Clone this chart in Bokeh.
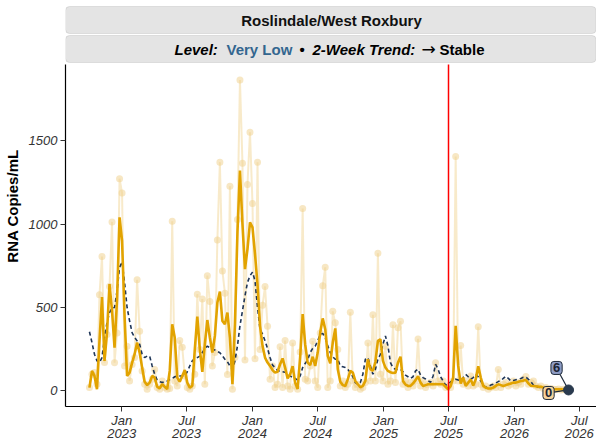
import numpy as np
import pandas as pd
from bokeh.plotting import figure
from bokeh.models import Range1d, FixedTicker, BoxAnnotation, Label, DatetimeAxis
from bokeh.embed import file_html
from bokeh.resources import INLINE

# ---------------- data ----------------
site_name = "Roslindale/West Roxbury"
first_sample = "2022-10-03"
sample_step_days = 7

raw_copies = [
    20, 100, 110, 40, 576, 805, 170, 338, 626, 1013,
    169, 348, 1272, 1186, 149, 268, 60, 159, 200, 666,
    358, 119, 40, 10, 40, 70, 129, 20, 10, 60,
    20, 10, 15, 1017, 60, 30, 302, 262, 90, 20,
    10, 30, 100, 580, 248, 551, 40, 691, 536, 149,
    230, 904, 1371, 719, 586, 99, 1226, 10, 200, 1027,
    1863, 1365, 185, 1237, 1550, 1123, 193, 1371, 248, 513,
    626, 387, 70, 150, 20, 40, 265, 20, 302, 30,
    10, 288, 30, 10, 233, 1093, 70, 60, 149, 298,
    60, 20, 348, 630, 741, 20, 60, 477, 408, 248,
    30, 60, 20, 40, 471, 60, 20, 40, 10, 20,
    50, 288, 60, 457, 60, 825, 100, 60, 268, 40,
    60, 397, 50, 378, 417, 40, 60, 20, 50, 30,
    60, 312, 30, 60, 20, 40, 50, 30, 169, 60,
    40, 60, 20, 30, 20, 60, 1405, 60, 272, 40,
    60, 30, 90, 30, 40, 384, 40, 20, 30, 10,
    20, 30, 20, 129, 20, 40, 50, 30, 40, 60,
    30, 50, 40, 70, 86, 40, 50, 60, 30, 20,
    30, 15, 20, 10, 15, 10, 8, 12, 6, 10,
    5, 6,
]

trend_short = [
    20, 120, 90, 10, 300, 563, 180, 350, 640, 480,
    260, 550, 1040, 900, 450, 90, 110, 170, 220, 290,
    230, 140, 55, 35, 50, 90, 80, 25, 15, 40,
    25, 12, 120, 400, 320, 80, 55, 90, 125, 50,
    20, 30, 250, 445, 250, 115, 280, 425, 320, 230,
    330, 530, 595, 420, 400, 470, 320, 40, 400, 950,
    1320, 1000, 730, 850, 1010, 980, 820, 640, 390, 270,
    200, 170, 150, 125, 110, 115, 160, 195, 140, 75,
    100, 148, 50, 12, 200, 460, 280, 170, 155, 205,
    150, 230, 350, 435, 370, 210, 165, 290, 375, 130,
    55, 35, 30, 70, 120, 110, 60, 40, 22, 30,
    60, 190, 130, 120, 175, 300, 310, 180, 140, 120,
    112, 108, 110, 170, 205, 60, 38, 30, 30, 45,
    65, 88, 50, 30, 35, 40, 40, 40, 42, 40,
    40, 40, 25, 10, 30, 80, 390, 150, 45, 80,
    30, 50, 68, 32, 70, 148, 80, 30, 20, 15,
    15, 20, 30, 40, 35, 30, 35, 40, 45, 50,
    50, 55, 60, 62, 66, 45, 30, 30, 28, 26,
    25, 20, 15, 10, 10, 10, 10, 10, 10, 8,
    7, 6,
]

trend_long = [
    355, 290, 220, 180, 170, 200, 320, 410, 470, 497,
    500, 600, 740, 775, 650, 500, 420, 350, 320, 300,
    280, 220, 200, 209, 209, 150, 100, 65, 55, 50,
    55, 60, 68, 75, 85, 89, 90, 90, 90, 115,
    150, 180, 195, 200, 209, 230, 255, 268, 260, 250,
    245, 237, 229, 210, 190, 175, 150, 130, 180, 270,
    390, 480, 570, 650, 690, 712, 660, 500, 370, 340,
    300, 255, 200, 155, 140, 123, 117, 115, 112, 105,
    90, 80, 75, 65, 90, 140, 165, 185, 230, 255,
    268, 300, 338, 345, 320, 270, 230, 205, 190, 190,
    150, 145, 140, 130, 110, 85, 50, 40, 50, 100,
    190, 199, 150, 100, 130, 190, 220, 280, 330, 270,
    170, 140, 129, 129, 129, 115, 95, 85, 75, 85,
    120, 130, 95, 80, 72, 62, 52, 90, 160, 130,
    85, 60, 35, 40, 55, 62, 70, 66, 60, 80,
    99, 85, 70, 80, 99, 85, 60, 35, 20, 28,
    35, 40, 48, 56, 62, 75, 88, 75, 60, 63,
    67, 70, 75, 82, 83, 70, 55, 35, 28, 22,
    20,
]

latest_value_label = "6"
latest_smooth_label = "0"
y_ticks = [0, 500, 1000, 1500]
x_tick_dates = ["2023-01-01", "2023-07-01", "2024-01-01", "2024-07-01",
                "2025-01-01", "2025-07-01", "2026-01-01", "2026-07-01"]
x_tick_labels = ["Jan\n2023", "Jul\n2023", "Jan\n2024", "Jul\n2024",
                 "Jan\n2025", "Jul\n2025", "Jan\n2026", "Jul\n2026"]
marker_date = "2025-07-01"

# strip 2 pieces: (text, font, font style, size, colour, left pixel in the page)
subtitle_parts = [
    ("Level:", "Liberation Sans", "bold italic", "15px", "#000000", 174),
    ("Very Low", "Liberation Sans", "bold", "15px", "#33668F", 226),
    ("\u2022", "Liberation Sans", "bold", "15px", "#000000", 299),
    ("2-Week Trend:", "Liberation Sans", "bold italic", "15px", "#000000", 312),
    ("\u2192", "DejaVu Sans", "normal", "17px", "#000000", 421),
    ("Stable", "Liberation Sans", "bold", "15px", "#000000", 439),
]


def ms(d):
    return (pd.Timestamp(d) - pd.Timestamp("1970-01-01")) / pd.Timedelta(milliseconds=1)


# ---------------- layout constants (pixels) ----------------
W, H = 596, 440
BL, BR, BT, BB = 65, 0, 5, 34
FRAME_H = H - BT - BB
DATA_TOP = 59          # px from top of frame where the data panel starts
SCALE_W = 527          # px width that the padded data range occupies
FONT = "Liberation Sans"

dates = pd.to_datetime(first_sample) + pd.to_timedelta(
    np.arange(len(raw_copies)) * sample_step_days, unit="D")
t = np.array([ms(d) for d in dates])

pad = 0.05 * (t[-1] - t[0])
x_lo = t[0] - pad
mpp = (t[-1] + pad - x_lo) / SCALE_W
x_hi = x_lo + (W - BL - BR) * mpp
vmax = max(raw_copies)
y_lo, y_top = -0.05 * vmax, 1.05 * vmax
upp = (y_top - y_lo) / (FRAME_H - DATA_TOP)
y_end = y_top + DATA_TOP * upp

p = figure(width=W, height=H, x_axis_type="datetime", output_backend="svg",
           toolbar_location=None, x_range=Range1d(x_lo, x_hi),
           y_range=Range1d(y_lo, y_end),
           min_border_left=BL, min_border_right=BR, min_border_top=BT,
           min_border_bottom=BB)
p.outline_line_color = None
p.grid.visible = False
p.background_fill_color = "white"
p.border_fill_color = "white"

# raw samples
p.line(t, raw_copies, line_color="#EFD08A", line_alpha=0.45, line_width=2)
p.scatter(t, raw_copies, size=7, fill_color="#EFD08A", fill_alpha=0.5, line_color=None)
# long trend (dashed)
p.line(t[:len(trend_long)], trend_long, line_color="#1E3557", line_width=1.6,
       line_dash="4 3")
# short trend
p.line(t, trend_short, line_color="#E2A300", line_width=2.6)

# red marker line
mx = ms(marker_date)
p.segment(x0=[mx], y0=[y_lo], x1=[mx], y1=[y_top], line_color="#FF0000", line_width=1.5)

# latest point + labels
lx, ly = t[-1], raw_copies[-1]
lab6 = (lx - 12 * mpp, ly + 22 * upp)
lab0 = (lx - 20 * mpp, ly - 3 * upp)
p.segment(x0=[lx, lx], y0=[ly, ly], x1=[lab6[0], lab0[0]], y1=[lab6[1], lab0[1]],
          line_color="#1E2A3A", line_width=1.2)
p.scatter([lx], [ly], size=10, fill_color="#2A3A4E", line_color="#2A3A4E")
p.add_layout(Label(x=lab6[0], y=lab6[1], text=latest_value_label, text_align="center",
                   text_baseline="middle", text_font=FONT, text_font_style="bold",
                   text_font_size="13px", text_color="#1B2433",
                   background_fill_color="#8E9CC4", border_line_color="#1E2A3A",
                   border_line_width=1, border_radius=3, padding=2))
p.add_layout(Label(x=lab0[0], y=lab0[1], text=latest_smooth_label, text_align="center",
                   text_baseline="middle", text_font=FONT, text_font_style="bold",
                   text_font_size="13px", text_color="#1B2433",
                   background_fill_color="#F8D49B", border_line_color="#1E2A3A",
                   border_line_width=1, border_radius=3, padding=2))

# strips (frame-relative pixel rows converted to data units)
s1_top, s1_bot = y_end - 1 * upp, y_end - 28 * upp
s2_top, s2_bot = y_end - 30 * upp, y_end - 57 * upp
for top, bot in [(s1_top, s1_bot), (s2_top, s2_bot)]:
    p.add_layout(BoxAnnotation(top=top, bottom=bot, left=x_lo, right=x_hi - 0.5 * mpp,
                               fill_color="#E4E4E4", fill_alpha=1,
                               line_color="#ABABAB", line_width=1, border_radius=4))
p.add_layout(Label(x=x_lo + (331 - BL) * mpp, y=(s1_top + s1_bot) / 2, text=site_name,
                   text_align="center", text_baseline="middle", text_font=FONT,
                   text_font_style="bold", text_font_size="15px", text_color="#111111"))
for txt, fnt, style, size, col, px in subtitle_parts:
    p.add_layout(Label(x=x_lo, y=(s2_top + s2_bot) / 2, x_offset=px - BL, text=txt,
                       text_align="left", text_baseline="middle", text_font=fnt,
                       text_font_style=style, text_font_size=size, text_color=col))

# axes
x_ticks = [ms(d) for d in x_tick_dates]
months = [lab.split("\n")[0] for lab in x_tick_labels]
years = [lab.split("\n")[1] for lab in x_tick_labels]
p.yaxis.ticker = FixedTicker(ticks=y_ticks)
p.yaxis.bounds = (y_lo, y_top)
p.xaxis.ticker = FixedTicker(ticks=x_ticks)
p.xaxis.major_label_overrides = dict(zip(x_ticks, months))
year_axis = DatetimeAxis(ticker=FixedTicker(ticks=x_ticks),
                         major_label_overrides=dict(zip(x_ticks, years)))
p.add_layout(year_axis, "below")

for ax in (p.xaxis[0], p.yaxis[0], year_axis):
    ax.axis_line_color = "black"
    ax.axis_line_width = 1.2
    ax.major_tick_line_color = "#333333"
    ax.major_tick_out = 5
    ax.major_tick_in = 0
    ax.minor_tick_line_color = None
    ax.major_label_text_font = FONT
    ax.major_label_text_font_style = "italic"
    ax.major_label_text_font_size = "13px"
    ax.major_label_text_color = "#333333"
    ax.major_label_standoff = 3
p.xaxis[0].major_label_standoff = 1
year_axis.axis_line_color = None
year_axis.major_tick_line_color = None
year_axis.major_tick_out = 0
year_axis.major_label_standoff = -2

p.yaxis.axis_label = "RNA Copies/mL"
p.yaxis.axis_label_text_font = FONT
p.yaxis.axis_label_text_font_style = "bold"
p.yaxis.axis_label_text_font_size = "15px"
p.yaxis.axis_label_text_color = "black"
p.yaxis.axis_label_standoff = 5

open("out.html", "w").write(file_html(p, INLINE))
